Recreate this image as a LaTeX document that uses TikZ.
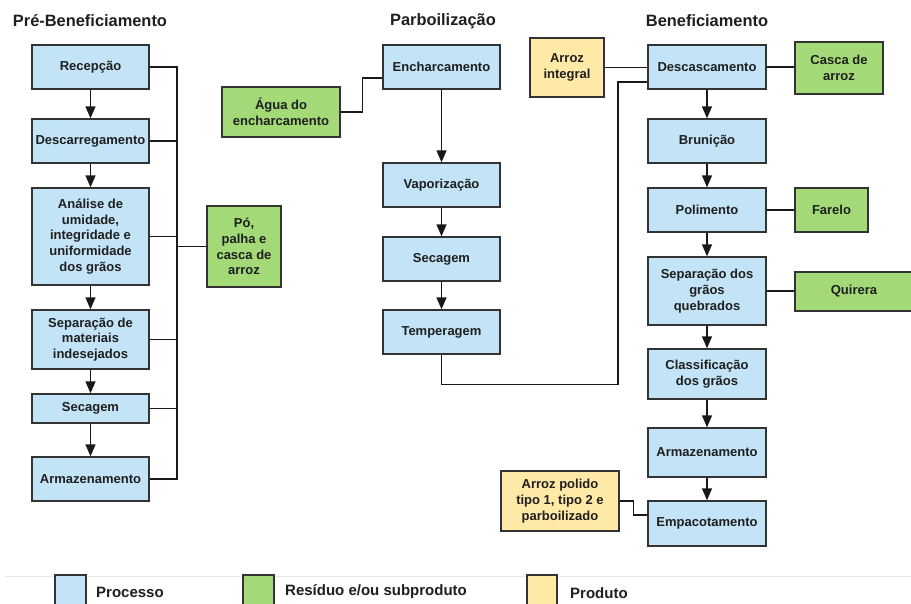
\documentclass[tikz,border=0pt]{standalone}
\usepackage{fontspec}
\setmainfont{Liberation Sans}
\usetikzlibrary{arrows.meta}
\definecolor{procc}{HTML}{C3E4F6}
\definecolor{resc}{HTML}{A3D977}
\definecolor{prodc}{HTML}{FFE9A6}
\definecolor{edgec}{HTML}{333333}
\definecolor{sepc}{HTML}{E6E6E6}
\begin{document}
\begin{tikzpicture}[x=1pt,y=-1pt,
  box/.style={draw=edgec, line width=1.4pt, align=center, inner sep=2pt,
    font=\fontsize{13}{15.8}\selectfont\bfseries, text=black!88},
  proc/.style={box, fill=procc},
  res/.style={box, fill=resc},
  prod/.style={box, fill=prodc},
  ttl/.style={font=\fontsize{16.4}{20}\selectfont\bfseries, text=black!88},
  leg/.style={font=\fontsize{15}{18}\selectfont\bfseries, text=black!88, anchor=west, inner sep=0pt},
  legbox/.style={draw=edgec, line width=1.4pt},
  conn/.style={line width=1.4pt, draw=black!90},
  arr/.style={conn, -{Triangle[width=10pt,length=12pt]}}]
\useasboundingbox (0,0) rectangle (911,603);
\clip (0,0) rectangle (911,603);
\fill[white] (0,0) rectangle (911,603);

% titles
\node[ttl] (t1) at (90,21) {Pré-Beneficiamento};
\node[ttl] (t2) at (443,21) {Parboilização};
\node[ttl] (t3) at (707,21) {Beneficiamento};

% left column
\node[proc, minimum width=117pt, minimum height=44pt] (rec) at (90.5,67) {Recepção};
\node[proc, minimum width=117pt, minimum height=44pt] (desc) at (90.5,141) {Descarregamento};
\node[proc, minimum width=117pt, minimum height=97pt] (ana) at (90.5,236.5) {Análise de\\umidade,\\integridade e\\uniformidade\\dos grãos};
\node[proc, minimum width=117pt, minimum height=59pt] (sep) at (90.5,339.5) {Separação de\\materiais\\indesejados};
\node[proc, minimum width=117pt, minimum height=29pt] (sec) at (90.5,408.5) {Secagem};
\node[proc, minimum width=117pt, minimum height=44pt] (arm) at (90.5,479) {Armazenamento};
\node[res, minimum width=74pt, minimum height=81pt] (po) at (244,246.5) {Pó,\\palha e\\casca de\\arroz};

\draw[arr] (rec) -- (desc);
\draw[arr] (desc) -- (ana);
\draw[arr] (ana) -- (sep);
\draw[arr] (sep) -- (sec);
\draw[arr] (sec) -- (arm);

\coordinate (btop) at (177,67);
\coordinate (bbot) at (177,479);
\coordinate (bmid) at (177,246.5);
\draw[conn] (rec.east) -- (btop) -- (bbot) -- (arm.east);
\draw[conn] (desc.east) -- (desc.east -| btop);
\draw[conn] (ana.east) -- (ana.east -| btop);
\draw[conn] (sep.east) -- (sep.east -| btop);
\draw[conn] (sec.east) -- (sec.east -| btop);
\draw[conn] (bmid) -- (po.west);

% middle column
\node[proc, minimum width=117pt, minimum height=44pt] (ench) at (441.5,67) {Encharcamento};
\node[res, minimum width=118pt, minimum height=50pt] (agua) at (281,112) {Água do\\encharcamento};
\node[proc, minimum width=117pt, minimum height=44pt] (vap) at (441.5,185) {Vaporização};
\node[proc, minimum width=117pt, minimum height=44pt] (sec2) at (441.5,259) {Secagem};
\node[proc, minimum width=117pt, minimum height=44pt] (temp) at (441.5,332) {Temperagem};

\draw[conn] (agua.east) -- ++(22,0) |- ([yshift=-11pt]ench.west);
\draw[arr] (ench) -- (vap);
\draw[arr] (vap) -- (sec2);
\draw[arr] (sec2) -- (temp);

% right column
\node[proc, minimum width=118pt, minimum height=44pt] (descas) at (707,67) {Descascamento};
\node[prod, minimum width=74pt, minimum height=59pt] (integ) at (567,67.5) {Arroz\\integral};
\node[res, minimum width=88pt, minimum height=52pt] (casca) at (839,68) {Casca de\\arroz};
\node[proc, minimum width=118pt, minimum height=44pt] (brun) at (707,141) {Brunição};
\node[proc, minimum width=118pt, minimum height=44pt] (pol) at (707,210) {Polimento};
\node[res, minimum width=73pt, minimum height=44pt] (farelo) at (831.5,210) {Farelo};
\node[proc, minimum width=118pt, minimum height=68pt] (sepg) at (707,291) {Separação dos\\grãos\\quebrados};
\node[res, minimum width=118pt, minimum height=39pt] (quir) at (854,291.5) {Quirera};
\node[proc, minimum width=118pt, minimum height=50pt] (class) at (707,374) {Classificação\\dos grãos};
\node[proc, minimum width=118pt, minimum height=49pt] (arm2) at (707,452.5) {Armazenamento};
\node[proc, minimum width=118pt, minimum height=45pt] (emp) at (707,523.5) {Empacotamento};
\node[prod, minimum width=118pt, minimum height=60pt] (polido) at (560,501) {Arroz polido\\tipo 1, tipo 2 e\\parboilizado};

\draw[conn] (temp.south) -- ++(0,30) -| (618,82) -- ([yshift=-15pt]descas.west);
\draw[conn] (integ.east) -- (integ.east -| descas.west);
\draw[conn] (descas.east) -- (descas.east -| casca.west);
\draw[arr] (descas) -- (brun);
\draw[arr] (brun) -- (pol);
\draw[arr] (pol) -- (sepg);
\draw[arr] (sepg) -- (class);
\draw[arr] (class) -- (arm2);
\draw[arr] (arm2) -- (emp);
\draw[conn] (pol.east) -- (farelo.west);
\draw[conn] (sepg.east) -- (sepg.east -| quir.west);
\draw[conn] (polido.east) -- ++(14,0) |- ([yshift=8.5pt]emp.west);

% legend
\draw[sepc, line width=0.8pt] (5,576) -- (911,576);
\filldraw[legbox, fill=procc] (55,575) rectangle (86,612);
\filldraw[legbox, fill=resc] (243,575) rectangle (274,612);
\filldraw[legbox, fill=prodc] (527,575) rectangle (557,612);
\node[leg] (l1) at (96,592) {Processo};
\node[leg] (l2) at (285,592) {Resíduo e/ou subproduto};
\node[leg] (l3) at (570,593) {Produto};
\end{tikzpicture}
\end{document}
